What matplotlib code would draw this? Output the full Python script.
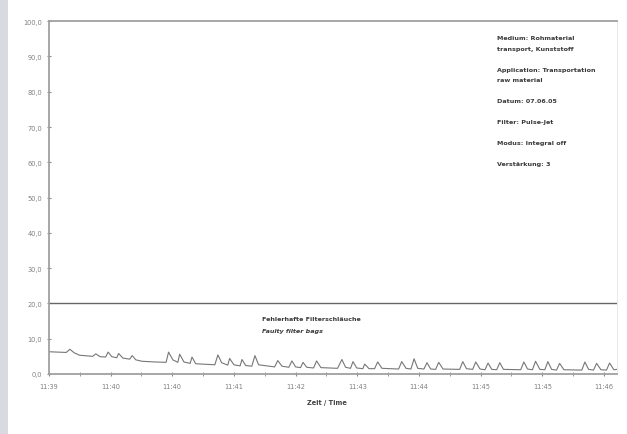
import matplotlib
matplotlib.use('Agg')
from matplotlib import pyplot as plt
from matplotlib.patches import Rectangle

# time axis in tick units (0 = first tick label), dust content in %
zeit = [0.00, 0.28, 0.34, 0.41, 0.50, 0.71, 0.76, 0.83, 0.92, 0.96,
        1.02, 1.10, 1.13, 1.20, 1.31, 1.35, 1.41, 1.51, 1.72, 1.90,
        1.94, 2.01, 2.09, 2.12, 2.19, 2.29, 2.32, 2.38, 2.69, 2.74,
        2.80, 2.90, 2.93, 3.00, 3.10, 3.13, 3.19, 3.29, 3.34, 3.40,
        3.66, 3.71, 3.78, 3.89, 3.94, 4.00, 4.08, 4.12, 4.18, 4.29,
        4.34, 4.41, 4.68, 4.75, 4.81, 4.89, 4.93, 4.99, 5.09, 5.12,
        5.19, 5.28, 5.33, 5.40, 5.67, 5.72, 5.79, 5.87, 5.92, 5.98,
        6.08, 6.13, 6.19, 6.27, 6.32, 6.39, 6.66, 6.71, 6.77, 6.87,
        6.92, 6.99, 7.07, 7.12, 7.18, 7.26, 7.31, 7.37, 7.65, 7.70,
        7.76, 7.84, 7.89, 7.96, 8.04, 8.09, 8.15, 8.23, 8.28, 8.35,
        8.64, 8.69, 8.75, 8.83, 8.88, 8.95, 9.04, 9.09, 9.16, 9.21]
staub = [6.3, 6.1, 7.0, 6.0, 5.3, 5.0, 5.7, 4.9, 4.8, 6.2,
         4.9, 4.6, 5.8, 4.5, 4.2, 5.2, 4.0, 3.6, 3.4, 3.3,
         6.2, 4.0, 3.3, 5.6, 3.4, 3.0, 4.8, 2.9, 2.6, 5.4,
         3.2, 2.5, 4.4, 2.6, 2.3, 4.1, 2.4, 2.2, 5.2, 2.6,
         2.0, 3.8, 2.2, 1.9, 3.7, 2.0, 1.8, 3.3, 1.9, 1.7,
         3.7, 1.8, 1.6, 4.1, 1.9, 1.6, 3.5, 1.7, 1.5, 2.8,
         1.5, 1.5, 3.4, 1.6, 1.4, 3.5, 1.6, 1.4, 4.3, 1.6,
         1.4, 3.2, 1.4, 1.3, 3.3, 1.4, 1.3, 3.5, 1.5, 1.3,
         3.4, 1.4, 1.2, 3.1, 1.3, 1.2, 3.2, 1.3, 1.2, 3.4,
         1.4, 1.2, 3.6, 1.3, 1.2, 3.5, 1.3, 1.1, 3.0, 1.2,
         1.1, 3.4, 1.3, 1.1, 3.0, 1.2, 1.1, 3.1, 1.2, 1.3]

zeit_labels = ['11:39', '11:40', '11:40', '11:41', '11:42',
               '11:43', '11:44', '11:45', '11:45', '11:46']
grenzwert = 20.0

info_lines = ['Medium: Rohmaterial', 'transport, Kunststoff', '',
              'Application: Transportation', 'raw material', '',
              'Datum: 07.06.05', '', 'Filter: Pulse-Jet', '',
              'Modus: Integral off', '', 'Verstärkung: 3']

fig = plt.figure(figsize=(6.27, 4.35), dpi=100)
fig.patch.set_facecolor('white')
# grey strip at the left border of the screenshot
fig.patches.append(Rectangle((0, 0), 0.013, 1, transform=fig.transFigure,
                             facecolor='#d9d9e1', edgecolor='none'))

ax = fig.add_axes([0.078, 0.138, 0.906, 0.811])
ax.plot(zeit, staub, color='#777777', lw=0.8)
ax.axhline(grenzwert, color='#666666', lw=1.0)

ax.set_xlim(0, 9.21)
ax.set_ylim(0, 100)
ax.set_yticks(range(0, 101, 10))
ax.set_yticklabels([f'{v},0' for v in range(0, 101, 10)])
ax.set_xticks(range(len(zeit_labels)))
ax.set_xticklabels(zeit_labels)
ax.set_xticks([i + 0.5 for i in range(9)], minor=True)

for s in ax.spines.values():
    s.set_color('#a0a0a0')
    s.set_linewidth(1.3)
ax.spines['right'].set_color('#e6e6e6')
ax.spines['right'].set_linewidth(0.6)
ax.tick_params(axis='both', which='both', direction='inout', length=3,
               color='#888888', labelsize=4.8, labelcolor='#808080')
ax.tick_params(axis='x', pad=5)

ax.set_ylabel('Staubgehalt [%] / Dust content [%]', fontsize=4.6,
              fontweight='bold', color='#444444')
ax.yaxis.set_label_coords(-0.07, 0.45)
ax.set_xlabel('Zeit / Time', fontsize=4.8, fontweight='bold', color='#444444')
ax.xaxis.set_label_coords(0.49, -0.072)

ax.text(7.26, 96.0, '\n'.join(info_lines), fontsize=4.6, fontweight='bold',
        color='#3a3a3a', va='top', ha='left', linespacing=2.36)

ax.text(3.45, 16.4, 'Fehlerhafte Filterschläuche', fontsize=4.6,
        fontweight='bold', color='#3a3a3a', va='top')
ax.text(3.45, 13.0, 'Faulty filter bags', fontsize=4.6, fontweight='bold',
        style='italic', color='#3a3a3a', va='top')

fig.savefig('out.png', dpi=100)
